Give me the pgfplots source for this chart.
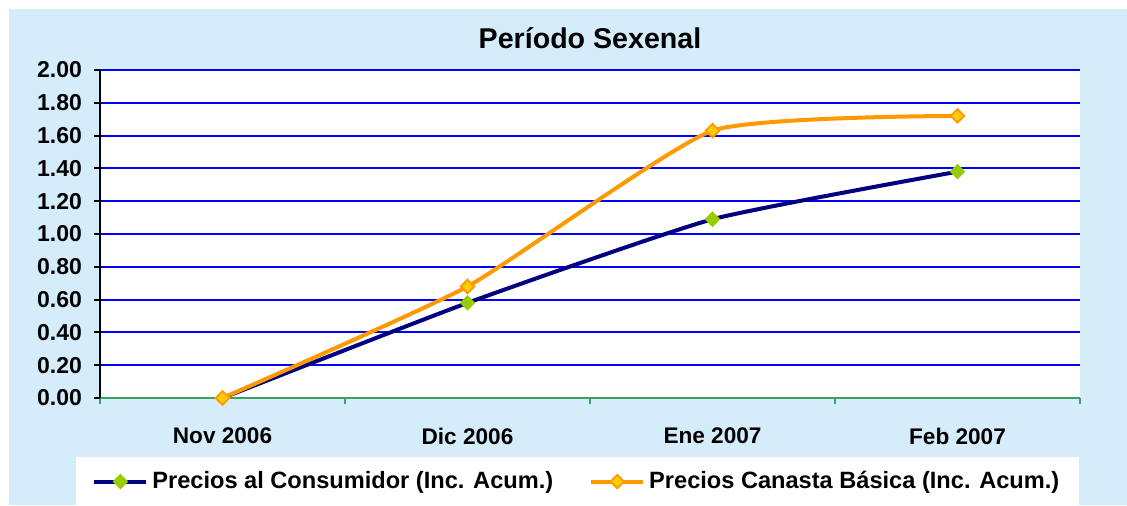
\documentclass[border=0pt]{standalone}
\usepackage{pgfplots}
\pgfplotsset{compat=1.18}
\usepackage{fontspec}
\setmainfont{Liberation Sans}
\definecolor{bgblue}{RGB}{213,236,251}
\definecolor{navyline}{RGB}{0,0,128}
\definecolor{orangeline}{RGB}{255,153,0}
\definecolor{markgreen}{RGB}{153,204,0}
\definecolor{markyellow}{RGB}{255,204,0}
\definecolor{axgreen}{RGB}{60,160,100}
\begin{document}
\begin{tikzpicture}
\path[fill=white] (0pt,0pt) rectangle (563.5pt,252.5pt);
\path[fill=bgblue] (4.5pt,0pt) rectangle (563.5pt,248pt);
\begin{axis}[
  at={(50pt,53.5pt)}, anchor=south west,
  scale only axis, width=490pt, height=164pt,
  xmin=-0.5, xmax=3.5, ymin=0, ymax=2,
  axis background/.style={fill=white},
  axis x line*=bottom, axis y line*=left,
  x axis line style={draw=axgreen, line width=1pt},
  y axis line style={draw=black, line width=1pt},
  xtick={0,1,2,3},
  xticklabels={Nov 2006,Dic 2006,Ene 2007,Feb 2007},
  major x tick style={draw=none},
  minor xtick={-0.5,0.5,1.5,2.5,3.5},
  minor x tick style={draw=axgreen, line width=1pt},
  minor tick length=3pt,
  ytick={0,0.2,...,2.01},
  major y tick style={draw=black, line width=1pt},
  major tick length=3pt,
  tick align=outside,
  ymajorgrids,
  grid style={draw=blue, line width=1pt},
  yticklabel style={font=\bfseries\fontsize{11.5}{13}\selectfont, xshift=-2.5pt,
    /pgf/number format/fixed, /pgf/number format/fixed zerofill,
    /pgf/number format/precision=2, /pgf/number format/assume math mode=true},
  xticklabel style={font=\bfseries\fontsize{11.3}{13}\selectfont, yshift=-8.5pt},
  title={Período Sexenal},
  title style={font=\bfseries\fontsize{14.3}{17}\selectfont, at={(0.5,1.062)}, anchor=center},
  legend style={at={(-0.0245,-0.18)}, anchor=north west, draw=none, fill=white,
    font=\bfseries\fontsize{11.8}{13}\selectfont, legend columns=2,
    inner xsep=8pt, inner ysep=5pt,
    /tikz/every even column/.append style={column sep=16pt},
    /tikz/every odd column/.append style={column sep=0pt}},
  legend image code/.code={\draw[mark repeat=2,mark phase=2,#1] plot coordinates {(0pt,0pt)(13pt,0pt)(26pt,0pt)};},
]
\addplot[navyline, line width=2pt, smooth, tension=0.3, mark=square*, mark size=2.5pt,
  mark options={rotate=45, fill=markgreen, draw=markgreen, line width=0.5pt}]
  coordinates {(0,0) (1,0.58) (2,1.09) (3,1.38)};
\addlegendentry{Precios al Consumidor (Inc. Acum.)}
\addplot[orangeline, line width=2pt, smooth, tension=0.3, mark=square*, mark size=2.4pt,
  mark options={rotate=45, fill=markyellow, draw=orangeline, line width=0.9pt}]
  coordinates {(0,0) (1,0.68) (2,1.63) (3,1.72)};
\addlegendentry{Precios Canasta Básica (Inc. Acum.)}
\end{axis}
\end{tikzpicture}
\end{document}
